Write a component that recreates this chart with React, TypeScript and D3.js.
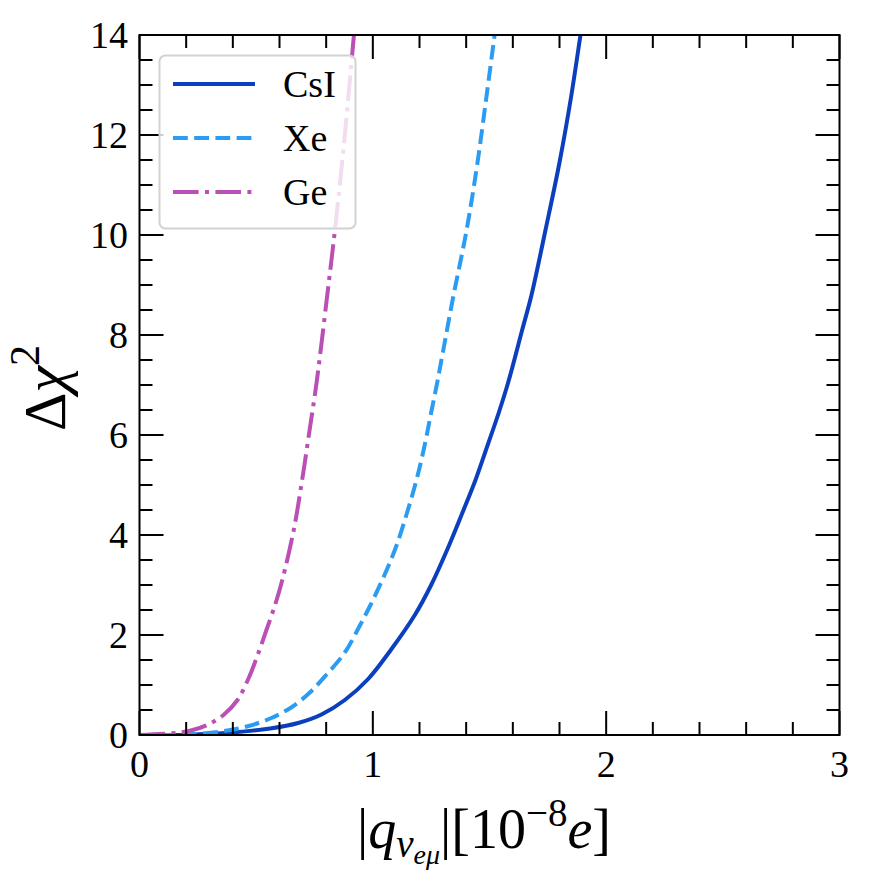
import React from 'react';
import { scaleLinear, line, curveCatmullRom, range } from 'd3';

// values
const csiX = [0, 0.2, 0.4, 0.56, 0.68, 0.78, 0.88, 0.98, 1.08, 1.18, 1.25, 1.32, 1.38, 1.44, 1.49, 1.54, 1.58, 1.64, 1.68, 1.74, 1.8, 1.85, 1.89, 1.9];
const csiY = [0, 0.005, 0.05, 0.13, 0.24, 0.41, 0.7, 1.12, 1.72, 2.4, 3.0, 3.72, 4.4, 5.1, 5.77, 6.45, 7.05, 8.1, 8.8, 10.1, 11.45, 12.77, 14.0, 14.3];

const xeX = [0, 0.2, 0.35, 0.46, 0.56, 0.65, 0.73, 0.8, 0.88, 0.94, 0.99, 1.05, 1.1, 1.147, 1.187, 1.221, 1.25, 1.276, 1.3, 1.344, 1.4, 1.447, 1.487, 1.521, 1.53];
const xeY = [0, 0.01, 0.07, 0.17, 0.33, 0.55, 0.85, 1.2, 1.65, 2.15, 2.6, 3.2, 3.77, 4.45, 5.1, 5.77, 6.45, 7.05, 7.65, 8.75, 10.05, 11.4, 12.77, 13.97, 14.3];

const geX = [0, 0.13, 0.22, 0.29, 0.36, 0.42, 0.469, 0.504, 0.544, 0.583, 0.612, 0.661, 0.697, 0.729, 0.759, 0.804, 0.84, 0.88, 0.919, 0.925];
const geY = [0, 0.03, 0.09, 0.2, 0.4, 0.7, 1.15, 1.57, 2.1, 2.63, 3.1, 4.1, 5.1, 6.1, 7.05, 8.77, 10.2, 12.0, 14.0, 14.3];

const labels = ['CsI', 'Xe', 'Ge'];
const colors = ['#0b3fbe', '#2b9cf3', '#ba4fb5'];
const xTicks = [0, 1, 2, 3];
const yTicks = [0, 2, 4, 6, 8, 10, 12, 14];

const W = 870;
const H = 880;
const left = 139.5, right = 839.5, top = 35, bottom = 735;
const font = '"Liberation Serif", "DejaVu Serif", serif';

const App: React.FC = () => {
  const x = scaleLinear().domain([0, 3]).range([left, right]);
  const y = scaleLinear().domain([0, 14]).range([bottom, top]);

  const lw = 4;
  // matplotlib-like dash patterns, scaled by line width
  const dashes = ['none', `${3.7 * lw} ${1.6 * lw}`, `${6.4 * lw} ${1.6 * lw} ${1 * lw} ${1.6 * lw}`];

  const series = [
    csiX.map((v, i) => [v, csiY[i]] as [number, number]),
    xeX.map((v, i) => [v, xeY[i]] as [number, number]),
    geX.map((v, i) => [v, geY[i]] as [number, number]),
  ];

  const lineGen = line<[number, number]>()
    .x(d => x(d[0]))
    .y(d => y(d[1]))
    .curve(curveCatmullRom.alpha(0.5));

  const xMinor = range(0, 3.001, 0.2).filter(v => Math.abs(v - Math.round(v)) > 1e-6);
  const yMinor = range(0, 14.001, 0.5).filter(v => Math.abs(v / 2 - Math.round(v / 2)) > 1e-6);

  const major = 24, minor = 13;

  return (
    <div style={{ position: 'fixed', left: 0, top: 0 }}>
      <svg width={W} height={H} style={{ background: '#fff', display: 'block' }}>
        <defs>
          <clipPath id="plotClip">
            <rect x={left} y={top} width={right - left} height={bottom - top} />
          </clipPath>
        </defs>

        {/* curves */}
        <g clipPath="url(#plotClip)">
          {series.map((s, i) => (
            <path key={i} d={lineGen(s) || ''} fill="none" stroke={colors[i]}
              strokeWidth={lw} strokeDasharray={dashes[i]} />
          ))}
        </g>

        {/* ticks, inward on all four sides */}
        <g stroke="#000" strokeWidth={2}>
          {xTicks.map(t => (
            <g key={'xt' + t}>
              <line x1={x(t)} x2={x(t)} y1={bottom} y2={bottom - major} />
              <line x1={x(t)} x2={x(t)} y1={top} y2={top + major} />
            </g>
          ))}
          {xMinor.map(t => (
            <g key={'xm' + t}>
              <line x1={x(t)} x2={x(t)} y1={bottom} y2={bottom - minor} />
              <line x1={x(t)} x2={x(t)} y1={top} y2={top + minor} />
            </g>
          ))}
          {yTicks.map(t => (
            <g key={'yt' + t}>
              <line x1={left} x2={left + major} y1={y(t)} y2={y(t)} />
              <line x1={right} x2={right - major} y1={y(t)} y2={y(t)} />
            </g>
          ))}
          {yMinor.map(t => (
            <g key={'ym' + t}>
              <line x1={left} x2={left + minor} y1={y(t)} y2={y(t)} />
              <line x1={right} x2={right - minor} y1={y(t)} y2={y(t)} />
            </g>
          ))}
        </g>

        <rect x={left} y={top} width={right - left} height={bottom - top}
          fill="none" stroke="#000" strokeWidth={2} />

        {/* tick labels */}
        <g fontFamily={font} fontSize={38} fill="#000">
          {xTicks.map(t => (
            <text key={'xl' + t} x={x(t)} y={777} textAnchor="middle">{t}</text>
          ))}
          {yTicks.map(t => (
            <text key={'yl' + t} x={128} y={y(t)} textAnchor="end" dominantBaseline="central">{t}</text>
          ))}
        </g>

        {/* legend */}
        <g>
          <rect x={159.5} y={55.5} width={196} height={173} rx={6} ry={6}
            fill="#fff" fillOpacity={0.8} stroke="#d2d2d2" strokeWidth={2} />
          {labels.map((l, i) => (
            <g key={l}>
              <line x1={173} x2={255} y1={84 + i * 54} y2={84 + i * 54}
                stroke={colors[i]} strokeWidth={lw} strokeDasharray={dashes[i]} />
              <text x={283} y={84 + i * 54} dominantBaseline="central"
                fontFamily={font} fontSize={38}>{l}</text>
            </g>
          ))}
        </g>

        {/* axis labels */}
        <text x={484} y={848} textAnchor="middle" fontFamily={font} fontSize={56}>
          <tspan>|</tspan>
          <tspan fontStyle="italic">q</tspan>
          <tspan fontStyle="italic" fontSize={39} dy={9}>ν</tspan>
          <tspan fontStyle="italic" fontSize={28} dy={7}>eμ</tspan>
          <tspan dy={-16}>|[10</tspan>
          <tspan fontSize={39} dy={-22}>−8</tspan>
          <tspan fontStyle="italic" dy={22}>e</tspan>
          <tspan>]</tspan>
        </text>

        <text transform="translate(65,388) rotate(-90)" textAnchor="middle"
          fontFamily={font} fontSize={60}>
          <tspan>Δ</tspan>
          <tspan fontStyle="italic">χ</tspan>
          <tspan fontSize={42} dy={-26}>2</tspan>
        </text>
      </svg>
    </div>
  );
};

export default App;
